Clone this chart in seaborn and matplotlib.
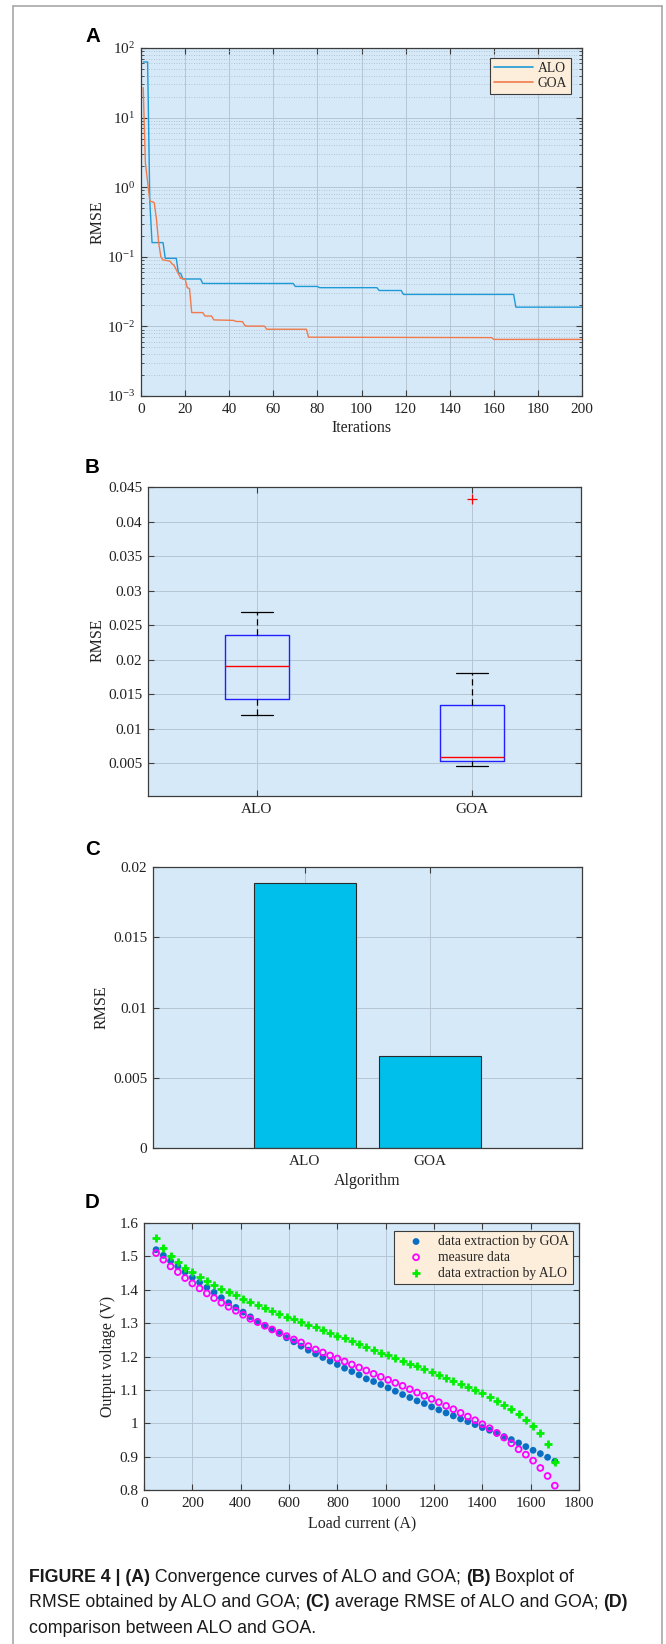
import numpy as np
import pandas as pd
import matplotlib
matplotlib.use("Agg")
import matplotlib.pyplot as plt
import seaborn as sns
from matplotlib.lines import Line2D
from matplotlib.ticker import FixedLocator, FuncFormatter, LogLocator, NullFormatter

# ---------------- data ----------------
# (A) convergence curves: vertices (iteration, best RMSE)
alo_iter = [1, 3, 4, 5, 10, 11, 16, 17, 18, 19, 27, 28, 69, 70, 80, 81, 107, 108, 118, 119, 169, 170, 200]
alo_rmse = [63, 63, 0.62, 0.16, 0.16, 0.095, 0.095, 0.058, 0.058, 0.048, 0.048, 0.0414, 0.0414, 0.0375,
            0.0375, 0.036, 0.036, 0.0328, 0.0328, 0.0288, 0.0288, 0.0189, 0.0189]
goa_iter = [1, 2, 3, 4, 5, 6, 7, 8, 9, 10, 13, 14, 15, 16, 17, 18, 20, 21, 22, 23, 28, 29, 32, 33,
            42, 43, 46, 47, 48, 56, 57, 75, 76, 159, 160, 200]
goa_rmse = [27, 2.2, 1.2, 0.63, 0.62, 0.6, 0.35, 0.16, 0.1, 0.09, 0.087, 0.08, 0.075, 0.065, 0.057, 0.049,
            0.048, 0.036, 0.035, 0.0158, 0.0158, 0.0141, 0.0141, 0.0124, 0.0122, 0.0118, 0.0117, 0.0104,
            0.0101, 0.0101, 0.0091, 0.0091, 0.007, 0.0069, 0.0065, 0.0065]

# (B) RMSE of runs (values giving the read box statistics)
alo_runs = [0.01194, 0.01432, 0.01913, 0.02354, 0.0269]
goa_runs = [0.00466, 0.00534, 0.00534, 0.00597, 0.00597, 0.01345, 0.01345, 0.01806, 0.0432]

# (C) average RMSE
algorithms = ["ALO", "GOA"]
avg_rmse = [0.01888, 0.00652]

# (D) polarization data
current = [50, 80, 110, 140, 170, 200, 230, 260, 290, 320, 350, 380, 410, 440, 470, 500, 530, 560,
           590, 620, 650, 680, 710, 740, 770, 800, 830, 860, 890, 920, 950, 980, 1010, 1040, 1070,
           1100, 1130, 1160, 1190, 1220, 1250, 1280, 1310, 1340, 1370, 1400, 1430, 1460, 1490, 1520,
           1550, 1580, 1610, 1640, 1670, 1700]
v_goa = [1.520, 1.503, 1.486, 1.470, 1.453, 1.437, 1.422, 1.407, 1.392, 1.376, 1.361, 1.347, 1.333,
         1.319, 1.305, 1.293, 1.281, 1.269, 1.256, 1.244, 1.231, 1.219, 1.208, 1.197, 1.186, 1.176,
         1.165, 1.155, 1.145, 1.133, 1.125, 1.116, 1.106, 1.096, 1.086, 1.077, 1.067, 1.059, 1.049,
         1.040, 1.031, 1.022, 1.013, 1.005, 0.996, 0.987, 0.979, 0.970, 0.960, 0.951, 0.941, 0.930,
         0.919, 0.909, 0.898, 0.886]
v_meas = [1.510, 1.490, 1.470, 1.453, 1.435, 1.419, 1.404, 1.389, 1.375, 1.361, 1.349, 1.337, 1.325,
          1.313, 1.303, 1.292, 1.281, 1.271, 1.261, 1.251, 1.242, 1.231, 1.221, 1.212, 1.203, 1.194,
          1.185, 1.176, 1.167, 1.158, 1.148, 1.139, 1.130, 1.121, 1.112, 1.102, 1.092, 1.082, 1.073,
          1.063, 1.052, 1.042, 1.031, 1.020, 1.009, 0.997, 0.985, 0.971, 0.957, 0.940, 0.922, 0.906,
          0.888, 0.866, 0.842, 0.813]
v_alo = [1.554, 1.524, 1.500, 1.482, 1.465, 1.452, 1.438, 1.426, 1.414, 1.403, 1.393, 1.383, 1.372,
         1.363, 1.354, 1.345, 1.337, 1.328, 1.319, 1.311, 1.303, 1.295, 1.287, 1.278, 1.270, 1.262,
         1.254, 1.246, 1.236, 1.227, 1.220, 1.211, 1.203, 1.195, 1.187, 1.179, 1.171, 1.163, 1.154,
         1.146, 1.137, 1.128, 1.119, 1.110, 1.101, 1.090, 1.079, 1.067, 1.055, 1.042, 1.028, 1.011,
         0.993, 0.970, 0.939, 0.884]

x_ticks_a = [0, 20, 40, 60, 80, 100, 120, 140, 160, 180, 200]
y_ticks_b = [0.005, 0.01, 0.015, 0.02, 0.025, 0.03, 0.035, 0.04, 0.045]
y_ticks_c = [0, 0.005, 0.01, 0.015, 0.02]
x_ticks_d = [0, 200, 400, 600, 800, 1000, 1200, 1400, 1600, 1800]
y_ticks_d = [0.8, 0.9, 1.0, 1.1, 1.2, 1.3, 1.4, 1.5, 1.6]

caption_lines = [
    [("FIGURE 4 | (A)", True), (" Convergence curves of ALO and GOA; ", False), ("(B)", True), (" Boxplot of", False)],
    [("RMSE obtained by ALO and GOA; ", False), ("(C)", True), (" average RMSE of ALO and GOA; ", False), ("(D)", True)],
    [("comparison between ALO and GOA.", False)],
]

# ---------------- style ----------------
sns.set_style("white")
plt.rcParams["font.family"] = ["Liberation Serif", "DejaVu Serif"]
plt.rcParams["mathtext.fontset"] = "custom"
plt.rcParams["mathtext.rm"] = "Liberation Serif"
plt.rcParams["mathtext.it"] = "Liberation Serif:italic"

BG = "#d6e9f8"
GRID = "#b7c5d2"
SPINE = "#3c3c3c"
LEG_FC = "#fdeedc"
C_ALO = "#1f9ad6"
C_GOA = "#f07a4c"
TICK_FS = 11
LAB_FS = 11.5
LEG_FS = 9.8

W, H = 666, 1644
fig = plt.figure(figsize=(W / 100, H / 100), dpi=100)
fig.patch.set_facecolor("white")


def add_ax(l, r, t, b):
    return fig.add_axes([l / W, 1 - b / H, (r - l) / W, (b - t) / H])


def style(ax):
    ax.set_facecolor(BG)
    for s in ax.spines.values():
        s.set_visible(True)
        s.set_color(SPINE)
        s.set_linewidth(0.9)
    ax.tick_params(which="both", direction="in", top=True, right=True, bottom=True, left=True,
                   colors=SPINE, labelcolor="#222222", labelsize=TICK_FS)
    ax.tick_params(which="major", length=4, width=0.8)
    ax.tick_params(which="minor", length=2.2, width=0.6)
    ax.tick_params(axis="x", pad=5)
    ax.tick_params(axis="y", pad=4)
    ax.set_axisbelow(True)
    ax.grid(True, which="major", color=GRID, linewidth=0.7)


def set_labels(ax, xl, xpos, yl, ypos):
    if xl is not None:
        ax.set_xlabel(xl, fontsize=LAB_FS, color="#222222")
        ax.xaxis.set_label_coords(*xpos)
        ax.xaxis.label.set_va("center")
    else:
        ax.set_xlabel("")
    if yl is not None:
        ax.set_ylabel(yl, fontsize=LAB_FS, color="#222222")
        ax.yaxis.set_label_coords(*ypos)
        ax.yaxis.label.set_va("center")


def legend_style(leg):
    fr = leg.get_frame()
    fr.set_facecolor(LEG_FC)
    fr.set_edgecolor(SPINE)
    fr.set_linewidth(0.8)
    fr.set_alpha(1)


# ---------------- panel A ----------------
axA = add_ax(141, 582, 48, 396)
df_a = pd.DataFrame({
    "Iterations": alo_iter + goa_iter,
    "RMSE": alo_rmse + goa_rmse,
    "Algorithm": ["ALO"] * len(alo_iter) + ["GOA"] * len(goa_iter),
})
sns.lineplot(data=df_a, x="Iterations", y="RMSE", hue="Algorithm",
             palette={"ALO": C_ALO, "GOA": C_GOA}, estimator=None, sort=False,
             linewidth=1.0, ax=axA)
axA.set_yscale("log")
axA.set_xlim(0, 200)
axA.set_ylim(1e-3, 1e2)
style(axA)
axA.xaxis.set_major_locator(FixedLocator(x_ticks_a))
axA.yaxis.set_major_locator(LogLocator(base=10, numticks=10))
axA.yaxis.set_minor_locator(LogLocator(base=10, subs=np.arange(2, 10), numticks=20))
axA.yaxis.set_minor_formatter(NullFormatter())
axA.grid(True, which="minor", axis="y", color="#a9b7c4", linewidth=0.6, linestyle=(0, (1, 2)))
set_labels(axA, "Iterations", ((362 - 141) / 441, (396 - 428) / 348),
           "RMSE", ((98 - 141) / 441, 0.5))
hA = [Line2D([], [], color=C_ALO, lw=1.2), Line2D([], [], color=C_GOA, lw=1.2)]
legA = axA.legend(hA, ["ALO", "GOA"], loc="upper right", bbox_to_anchor=(0.975, 0.971),
                  borderaxespad=0, fontsize=LEG_FS, fancybox=False, handlelength=2.9,
                  handletextpad=0.3, borderpad=0.3, labelspacing=0.15)
legend_style(legA)

# ---------------- panel B ----------------
axB = add_ax(148, 581, 487, 796)
df_b = pd.DataFrame({
    "Algorithm": ["ALO"] * len(alo_runs) + ["GOA"] * len(goa_runs),
    "RMSE": alo_runs + goa_runs,
})
sns.boxplot(data=df_b, x="Algorithm", y="RMSE", order=algorithms, width=0.3, fill=False,
            color="blue", saturation=1, linewidth=1.0, whis=1.5, ax=axB,
            boxprops=dict(color="#2020ff", linewidth=1.0),
            medianprops=dict(color="red", linewidth=1.0),
            whiskerprops=dict(color="black", linestyle=(0, (5, 3)), linewidth=0.9),
            capprops=dict(color="black", linewidth=0.9),
            flierprops=dict(marker="+", markeredgecolor="red", markerfacecolor="red",
                            markersize=7, markeredgewidth=0.9))
axB.set_xlim(-0.507, 1.507)
axB.set_ylim(0.00025, 0.045)
style(axB)
axB.yaxis.set_major_locator(FixedLocator(y_ticks_b))
axB.yaxis.set_major_formatter(FuncFormatter(lambda v, p: f"{v:g}"))
set_labels(axB, None, None, "RMSE", ((98 - 148) / 433, 0.505))

# ---------------- panel C ----------------
axC = add_ax(153, 582, 867, 1148)
sns.barplot(x=algorithms, y=avg_rmse, color="#00bfea", saturation=1, width=0.81,
            edgecolor="#2a2a2a", linewidth=0.8, ax=axC)
axC.set_xlim(-1.216, 2.216)
axC.set_ylim(0, 0.02)
style(axC)
axC.yaxis.set_major_locator(FixedLocator(y_ticks_c))
axC.yaxis.set_major_formatter(FuncFormatter(lambda v, p: f"{v:g}"))
set_labels(axC, "Algorithm", (0.499, (1148 - 1181) / 281),
           "RMSE", ((102 - 153) / 429, 0.502))

# ---------------- panel D ----------------
axD = add_ax(144, 579, 1223, 1490)
sns.scatterplot(x=current, y=v_goa, color="#0a6fc2", s=24, edgecolor="none",
                ax=axD, zorder=3)
sns.scatterplot(x=current, y=v_meas, color="#ff00ff", s=18, marker="o", ax=axD, zorder=3)
sns.scatterplot(x=current, y=v_alo, color="#00ee00", s=36, marker="+", linewidth=2.0,
                ax=axD, zorder=3)
col_goa, col_meas, col_alo = axD.collections[-3:]
col_meas.set_facecolor("none")
col_meas.set_edgecolor("#ff00ff")
col_meas.set_linewidth(1.3)
col_alo.set_edgecolor("#00ee00")
col_alo.set_facecolor("#00ee00")
col_alo.set_linewidth(2.0)
axD.set_xlim(0, 1800)
axD.set_ylim(0.8, 1.6)
style(axD)
axD.xaxis.set_major_locator(FixedLocator(x_ticks_d))
axD.yaxis.set_major_locator(FixedLocator(y_ticks_d))
axD.yaxis.set_major_formatter(FuncFormatter(lambda v, p: f"{v:g}"))
set_labels(axD, "Load current (A)", (0.501, (1490 - 1523) / 267),
           "Output voltage (V)", ((108 - 144) / 435, 0.5))
legD = axD.legend([col_goa, col_meas, col_alo],
                  ["data extraction by GOA", "measure data", "data extraction by ALO"],
                  loc="upper right", bbox_to_anchor=(0.986, 0.970), borderaxespad=0,
                  fontsize=LEG_FS, fancybox=False, handlelength=2.7, handletextpad=0.25,
                  borderpad=0.3, labelspacing=0.2, scatterpoints=1)
legend_style(legD)

# ---------------- panel letters ----------------
for letter, base in [("A", 41.7), ("B", 472.7), ("C", 855), ("D", 1208.3)]:
    fig.text(85 / W, 1 - base / H, letter, ha="left", va="baseline", fontsize=14.8,
             fontweight="bold", family=["Liberation Sans", "DejaVu Sans"], color="black")

# ---------------- frame ----------------
fc = "#a0a0a0"
fig.add_artist(Line2D([13 / W, 13 / W], [1 - 6 / H, -0.01], transform=fig.transFigure, color=fc, lw=1.1))
fig.add_artist(Line2D([662 / W, 662 / W], [1 - 6 / H, -0.01], transform=fig.transFigure, color=fc, lw=1.1))
fig.add_artist(Line2D([13 / W, 662 / W], [1 - 6 / H, 1 - 6 / H], transform=fig.transFigure, color=fc, lw=1.1))

# ---------------- caption ----------------
renderer = fig.canvas.get_renderer()
for line, base in zip(caption_lines, [1582, 1607, 1632.5]):
    x = 29
    for txt, bold in line:
        t = fig.text(x / W, 1 - base / H, txt, ha="left", va="baseline", fontsize=12.8,
                     fontweight="bold" if bold else "normal",
                     family=["Liberation Sans", "DejaVu Sans"], color="#1a1a1a")
        bb = t.get_window_extent(renderer)
        x = bb.x1

fig.savefig("out.png", dpi=100, facecolor="white")
